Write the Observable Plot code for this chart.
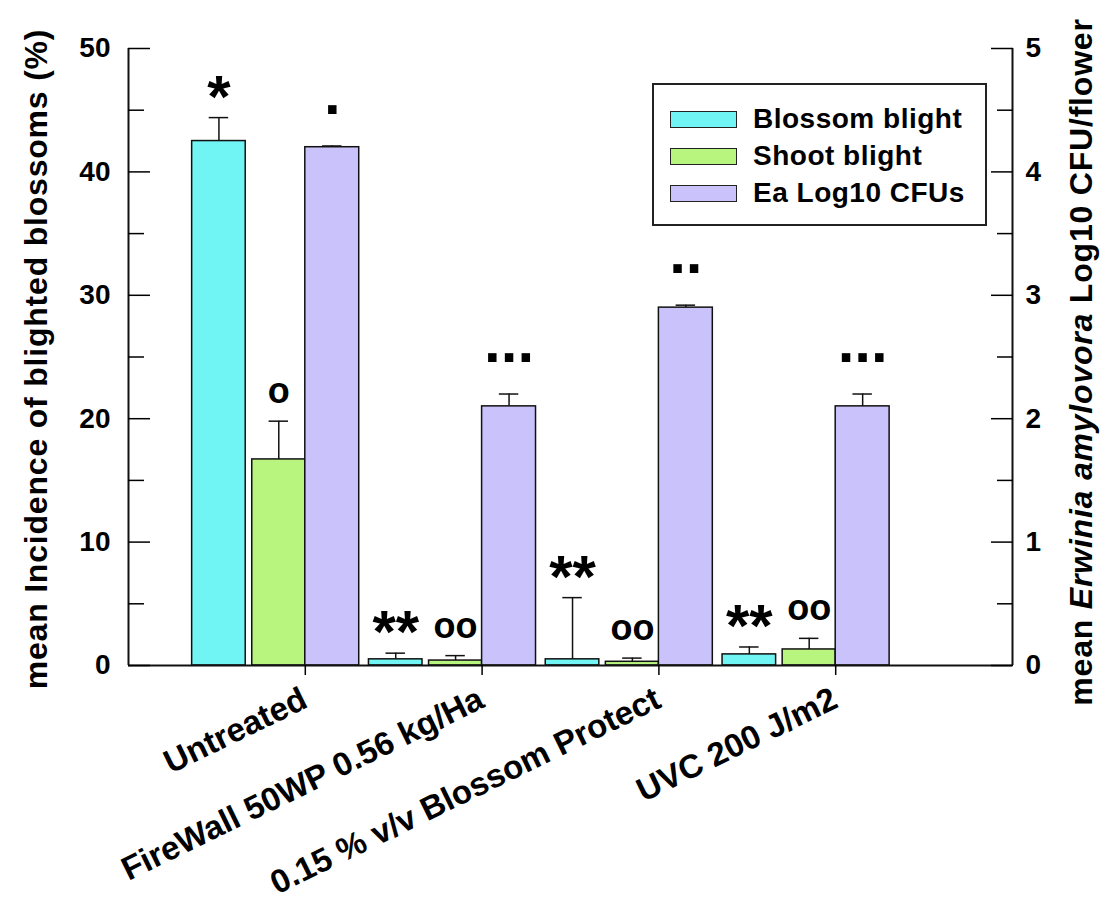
<!DOCTYPE html>
<html><head><meta charset="utf-8">
<script src="https://cdn.jsdelivr.net/npm/d3@7"></script>
<script src="https://cdn.jsdelivr.net/npm/@observablehq/plot@0.6"></script>
<style>
body{margin:0;background:#fff;font-family:"Liberation Sans",Arial,sans-serif;}
#wrap{position:relative;width:1106px;height:901px;overflow:hidden;}
.legend{position:absolute;left:652px;top:83px;width:335px;height:143px;border:2px solid #222;background:#fff;box-sizing:border-box;}
.legend .row{position:absolute;left:16px;height:30px;display:flex;align-items:center;}
.legend .sw{width:67px;height:17px;border:1.5px solid #222;box-sizing:border-box;margin-right:16px;}
.legend .lab{font-weight:bold;font-size:28px;letter-spacing:0.5px;color:#000;white-space:nowrap;}
</style></head><body><div id="wrap"></div>
<script>
// ---- data ----
const treatments = ["Untreated", "FireWall 50WP 0.56 kg/Ha", "0.15 % v/v Blossom Protect", "UVC 200 J/m2"];
const blossomBlight = [42.5, 0.5, 0.5, 0.9];
const blossomBlightErr = [1.9, 0.5, 5.0, 0.6];
const shootBlight = [16.7, 0.4, 0.3, 1.3];
const shootBlightErr = [3.1, 0.4, 0.3, 0.9];
const eaLog10 = [4.2, 2.1, 2.9, 2.1];
const eaLog10Err = [0.01, 0.1, 0.02, 0.1];
const blossomSig = ["*", "**", "**", "**"];
const shootSig = ["o", "oo", "oo", "oo"];
const eaSig = [".", "...", "..", "..."];
const seriesNames = ["Blossom blight", "Shoot blight", "Ea Log10 CFUs"];
const seriesColors = ["#70f4f4", "#b8f57f", "#cac3fb"];
const leftTicks = [0, 10, 20, 30, 40, 50];
const leftMinor = [5, 15, 25, 35, 45];
const rightTicks = [0, 1, 2, 3, 4, 5];
const rightMinor = [0.5, 1.5, 2.5, 3.5, 4.5];
const leftTitle = "mean Incidence of blighted blossoms (%)";
const rightTitleParts = ["mean ", "Erwinia amylovora", " Log10 CFU/flower"];

// right axis (log10 CFU, 0–5) shares the left scale (0–50)
const k = 10;
const bars = [];
treatments.forEach((t, i) => {
  const c = i + 1;
  bars.push({s: 0, x1: c - 0.64, x2: c - 0.337, v: blossomBlight[i], e: blossomBlightErr[i], sig: blossomSig[i]});
  bars.push({s: 1, x1: c - 0.30, x2: c, v: shootBlight[i], e: shootBlightErr[i], sig: shootSig[i]});
  bars.push({s: 2, x1: c, x2: c + 0.305, v: eaLog10[i] * k, e: eaLog10Err[i] * k, sig: eaSig[i]});
});
bars.forEach(d => { d.xc = (d.x1 + d.x2) / 2; d.top = d.v + d.e; d.fill = seriesColors[d.s]; });

const bold = {fontWeight: "bold", fill: "#000"};
const chart = Plot.plot({
  width: 1106, height: 901,
  marginLeft: 128, marginRight: 94, marginTop: 48, marginBottom: 236,
  x: {domain: [0, 5], axis: null},
  y: {domain: [0, 50], axis: null},
  style: {fontFamily: "'Liberation Sans', Arial, sans-serif", color: "#000", background: "#fff", overflow: "visible"},
  marks: [
    Plot.rectY(bars, {x1: "x1", x2: "x2", y1: 0, y2: "v", fill: "fill", stroke: "#111", strokeWidth: 1.5}),
    Plot.ruleX(bars, {x: "xc", y1: "v", y2: "top", stroke: "#111", strokeWidth: 1.5}),
    Plot.ruleY(bars, {x1: d => d.xc - 0.055, x2: d => d.xc + 0.055, y: "top", stroke: "#111", strokeWidth: 1.5}),
    // axis lines
    Plot.ruleX([0, 5], {stroke: "#111", strokeWidth: 2}),
    Plot.ruleY([0], {stroke: "#111", strokeWidth: 2}),
    // ticks (inward)
    Plot.axisY({anchor: "left", ticks: leftTicks, tickSize: -22, fill: "none", label: null, strokeWidth: 1.5}),
    Plot.axisY({anchor: "left", ticks: leftMinor, tickSize: -16, fill: "none", label: null, strokeWidth: 1.5}),
    Plot.axisY({anchor: "right", ticks: rightTicks.map(d => d * k), tickSize: -22, fill: "none", label: null, strokeWidth: 1.5}),
    Plot.axisY({anchor: "right", ticks: rightMinor.map(d => d * k), tickSize: -16, fill: "none", label: null, strokeWidth: 1.5}),
    Plot.axisX({anchor: "bottom", ticks: [1, 2, 3, 4], tickSize: 10, fill: "none", label: null, strokeWidth: 1.5}),
    // tick labels
    Plot.axisY({anchor: "left", ticks: leftTicks, tickSize: 0, tickPadding: 18, label: null, fontSize: 28, fontWeight: "bold", tickFormat: d => String(d)}),
    Plot.axisY({anchor: "right", ticks: rightTicks.map(d => d * k), tickSize: 0, tickPadding: 13, label: null, fontSize: 28, fontWeight: "bold", tickFormat: d => String(d / k)}),
    // category labels
    Plot.text(treatments, {x: (d, i) => i + 1, y: 0, text: d => d, rotate: -26, textAnchor: "end", lineAnchor: "bottom", dx: 4, dy: 41, fontSize: 33, ariaLabel: "xlabels", ...bold}),
    // significance marks
    Plot.text(bars.filter(d => d.s === 0), {x: "xc", y: "top", text: "sig", lineAnchor: "bottom", dy: -1, fontSize: 60, ...bold}),
    Plot.text(bars.filter(d => d.s === 1), {x: "xc", y: "top", text: "sig", lineAnchor: "bottom", dy: -18, fontSize: 36, ariaLabel: "oo", ...bold}),
    Plot.text(bars.filter(d => d.s === 2), {x: "xc", y: "top", text: "sig", lineAnchor: "bottom", dy: -32, fontSize: 60, ariaLabel: "dots", ...bold})
  ]
});

const svg = d3.select(chart);
svg.select("g[aria-label='xlabels']").style("letter-spacing", "2.3px");
svg.select("g[aria-label='oo']").style("letter-spacing", "1px");
svg.select("g[aria-label='dots']").style("letter-spacing", "2px");

// axis titles
svg.append("text")
  .attr("transform", "translate(47,359) rotate(-90)")
  .attr("text-anchor", "middle")
  .style("font-size", "32px").style("font-weight", "bold").style("letter-spacing", "0.8px")
  .attr("fill", "#000")
  .text(leftTitle);
const rt = svg.append("text")
  .attr("transform", "translate(1092,362) rotate(-90)")
  .attr("text-anchor", "middle")
  .style("font-size", "32px").style("font-weight", "bold").style("letter-spacing", "0.8px")
  .attr("fill", "#000");
rightTitleParts.forEach((p, i) => rt.append("tspan").style("font-style", i === 1 ? "italic" : "normal").text(p));

const wrap = document.getElementById("wrap");
wrap.append(chart);

// legend
const lg = document.createElement("div");
lg.className = "legend";
seriesNames.forEach((n, i) => {
  const row = document.createElement("div");
  row.className = "row";
  row.style.top = (19 + i * 37) + "px";
  const sw = document.createElement("div");
  sw.className = "sw";
  sw.style.background = seriesColors[i];
  const lab = document.createElement("span");
  lab.className = "lab";
  lab.textContent = n;
  row.append(sw, lab);
  lg.append(row);
});
wrap.append(lg);
</script>
</body></html>
